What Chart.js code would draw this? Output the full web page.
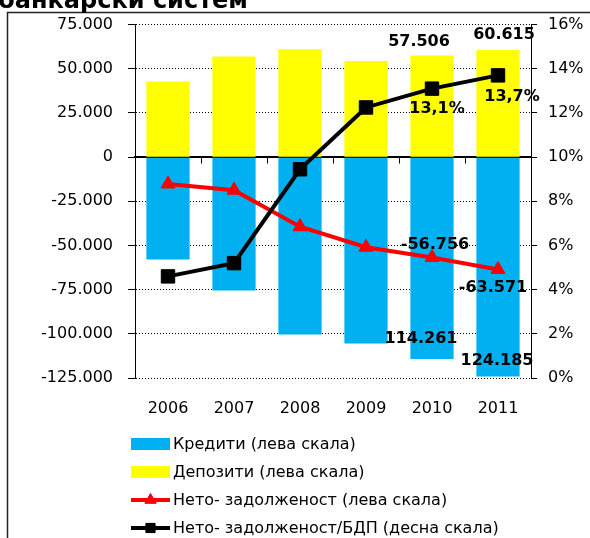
<!DOCTYPE html>
<html>
<head>
<meta charset="utf-8">
<script src="https://cdn.jsdelivr.net/npm/chart.js@4.4.1/dist/chart.umd.min.js"></script>
<style>
  html, body { margin: 0; padding: 0; background: #fff; }
  #wrap { width: 590px; height: 538px; }
</style>
</head>
<body>
<div id="wrap"><canvas id="debtChart" width="590" height="538"></canvas></div>
<script>
// Values (millions BGN and % of GDP)
const years = ['2006', '2007', '2008', '2009', '2010', '2011'];
const credits = [-58000, -75500, -100400, -105500, -114261, -124185];
const deposits = [42800, 57000, 61000, 54400, 57506, 60615];
const netDebt = [-15200, -18700, -39400, -51000, -56756, -63571];
const debtToGdp = [4.6, 5.2, 9.45, 12.25, 13.1, 13.7];

const seriesNames = [
    'Кредити (лева скала)',
    'Депозити (лева скала)',
    'Нето- задолженост (лева скала)',
    'Нето- задолженост/БДП (десна скала)'
];
const titleText = 'банкарски систем';

const FONT = 'DejaVu Sans';

function fmtThousands(v) {
    const s = Math.abs(Math.round(v)).toString().replace(/\B(?=(\d{3})+(?!\d))/g, '.');
    return (v < 0 ? '-' : '') + s;
}
function fmtPct(v) {
    return v.toFixed(1).replace('.', ',') + '%';
}

// Which points get a value label, and where it sits relative to the mark
const valueLabels = [
    { ds: 1, i: 4, dx: -13, dy: -14, fmt: v => fmtThousands(v) },
    { ds: 1, i: 5, dx: 6, dy: -15, fmt: v => fmtThousands(v) },
    { ds: 0, i: 4, dx: -11, dy: -20, fmt: v => fmtThousands(Math.abs(v)) },
    { ds: 0, i: 5, dx: -1, dy: -16, fmt: v => fmtThousands(Math.abs(v)) },
    { ds: 2, i: 4, dx: 3, dy: -13, fmt: v => fmtThousands(v) },
    { ds: 2, i: 5, dx: -5, dy: 18, fmt: v => fmtThousands(v) },
    { ds: 3, i: 4, dx: 5, dy: 20, fmt: v => fmtPct(v) },
    { ds: 3, i: 5, dx: 14, dy: 21, fmt: v => fmtPct(v) }
];

const valueLabelPlugin = {
    id: 'valueLabels',
    afterDatasetsDraw(chart) {
        const ctx = chart.ctx;
        ctx.save();
        ctx.font = 'bold 16px "' + FONT + '"';
        ctx.fillStyle = '#000';
        ctx.textAlign = 'center';
        ctx.textBaseline = 'middle';
        valueLabels.forEach(l => {
            const el = chart.getDatasetMeta(l.ds).data[l.i];
            const v = chart.data.datasets[l.ds].data[l.i];
            ctx.fillText(l.fmt(v), el.x + l.dx, el.y + l.dy);
        });
        ctx.restore();
    }
};

// Frame, cut-off title and the one-column legend below the plot
const framePlugin = {
    id: 'frame',
    beforeDraw(chart) {
        const ctx = chart.ctx;
        ctx.save();
        ctx.fillStyle = '#fff';
        ctx.fillRect(0, 0, chart.width, chart.height);
        ctx.strokeStyle = '#222';
        ctx.lineWidth = 1.5;
        ctx.beginPath();
        ctx.moveTo(7.5, chart.height);
        ctx.lineTo(7.5, 12.5);
        ctx.lineTo(chart.width, 12.5);
        ctx.stroke();
        ctx.font = 'bold 24px "' + FONT + '"';
        ctx.fillStyle = '#000';
        ctx.textBaseline = 'alphabetic';
        ctx.fillText(titleText, -2, 8);
        ctx.restore();
    },
    afterDraw(chart) {
        const ctx = chart.ctx;
        const x0 = 131, x1 = 170, top = 444, rowH = 28;
        ctx.save();
        ctx.font = '16px "' + FONT + '"';
        ctx.textBaseline = 'middle';
        chart.data.datasets.forEach((ds, k) => {
            const y = top + k * rowH;
            if (ds.type === 'bar') {
                ctx.fillStyle = ds.backgroundColor;
                ctx.fillRect(x0, y - 6, x1 - x0, 12);
            } else {
                ctx.strokeStyle = ds.borderColor;
                ctx.lineWidth = 4;
                ctx.beginPath();
                ctx.moveTo(x0, y);
                ctx.lineTo(x1, y);
                ctx.stroke();
                ctx.fillStyle = ds.backgroundColor;
                ctx.lineWidth = 1;
                Chart.helpers.drawPoint(ctx, {
                    pointStyle: ds.pointStyle, radius: 6.5, rotation: 0, borderWidth: 1
                }, (x0 + x1) / 2, y);
                ctx.fill();
            }
            ctx.fillStyle = '#000';
            ctx.fillText(ds.label, x1 + 3, y + 1);
        });
        ctx.restore();
    }
};

const tickFont = { family: FONT, size: 16 };

new Chart(document.getElementById('debtChart'), {
    data: {
        labels: years,
        datasets: [
            { type: 'bar', label: seriesNames[0], data: credits, backgroundColor: '#00B0F0', order: 3,
              categoryPercentage: 1, barPercentage: 0.655 },
            { type: 'bar', label: seriesNames[1], data: deposits, backgroundColor: '#FFFF00', order: 3,
              categoryPercentage: 1, barPercentage: 0.655 },
            { type: 'line', label: seriesNames[2], data: netDebt, yAxisID: 'y',
              borderColor: '#FF0000', backgroundColor: '#FF0000', borderWidth: 4,
              pointStyle: 'triangle', pointRadius: 8, pointBorderWidth: 1, tension: 0, order: 1 },
            { type: 'line', label: seriesNames[3], data: debtToGdp, yAxisID: 'y1',
              borderColor: '#000000', backgroundColor: '#000000', borderWidth: 4,
              pointStyle: 'rect', pointRadius: 9.5, pointBorderWidth: 1, tension: 0, order: 0 }
        ]
    },
    options: {
        responsive: false,
        devicePixelRatio: 1,
        animation: false,
        layout: { padding: { top: 23, bottom: 120, left: 0, right: 0 } },
        plugins: {
            legend: { display: false },
            tooltip: { enabled: false }
        },
        scales: {
            x: {
                stacked: true,
                grid: { display: false },
                border: { display: false },
                ticks: { color: '#000', font: tickFont, padding: 13, maxRotation: 0 },
                afterFit: s => { s.height = 40; }
            },
            x2: {
                type: 'category',
                labels: years,
                position: { y: 0 },
                offset: true,
                z: 1,
                grid: { offset: true, drawOnChartArea: false, tickLength: 6, color: '#000', tickColor: '#000' },
                border: { display: true, color: '#000', width: 1.5 },
                ticks: { display: false }
            },
            y: {
                position: 'left',
                min: -125000,
                max: 75000,
                ticks: {
                    stepSize: 25000, color: '#000', font: tickFont, padding: 15,
                    callback: v => fmtThousands(v)
                },
                grid: { color: '#000', lineWidth: 1, tickLength: 7, tickColor: '#000', tickBorderDash: [] },
                border: {
                    display: true, color: '#000', width: 1,
                    dash: c => (c.type === 'tick' && c.tick && c.tick.value !== 0) ? [1, 2] : []
                },
                afterFit: s => { s.width = 135; }
            },
            y1: {
                position: 'right',
                min: 0,
                max: 16,
                ticks: {
                    stepSize: 2, color: '#000', font: tickFont, padding: 11,
                    callback: v => v + '%'
                },
                grid: { drawOnChartArea: false, tickLength: 6, color: '#000', tickColor: '#000' },
                border: { display: true, color: '#000', width: 1 },
                afterFit: s => { s.width = 59; }
            }
        }
    },
    plugins: [valueLabelPlugin, framePlugin]
});
</script>
</body>
</html>
